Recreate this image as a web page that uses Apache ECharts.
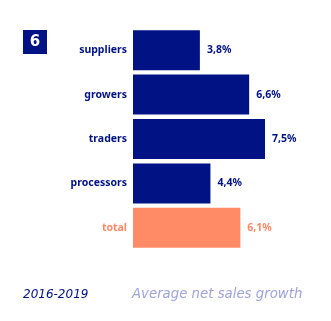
<!DOCTYPE html>
<html><head><meta charset="utf-8">
<script src="https://cdn.jsdelivr.net/npm/echarts@6/dist/echarts.min.js"></script>
<style>html,body{margin:0;padding:0;background:#fff}#c{width:331px;height:321px}</style>
</head><body><div id="c"></div>
<script>
const categories = ["suppliers", "growers", "traders", "processors", "total"];
const values = [3.8, 6.6, 7.5, 4.4, 6.1];
const valueLabels = ["3,8%", "6,6%", "7,5%", "4,4%", "6,1%"];
const NAVY = "#001284", SALMON = "#ff8a65";
const chart = echarts.init(document.getElementById('c'));
const FONT = "Noto Sans";
chart.setOption({
  animation: false,
  grid: {left: 133, top: 28, width: 176, height: 222},
  xAxis: {type: 'value', min: 0, max: 10, show: false},
  yAxis: {type: 'category', inverse: true, data: categories,
    axisLine: {show: false}, axisTick: {show: false},
    axisLabel: {margin: 6, fontFamily: FONT, fontWeight: 'bold', fontSize: 10.5,
      color: (v) => v === 'total' ? SALMON : NAVY}},
  series: [{type: 'bar', barWidth: 40,
    data: values.map((v, i) => ({value: v, itemStyle: {color: i === 4 ? SALMON : NAVY},
      label: {color: i === 4 ? SALMON : NAVY}})),
    label: {show: true, position: 'right', distance: 7, fontFamily: FONT, fontWeight: 'bold', fontSize: 10.5,
      formatter: (p) => valueLabels[p.dataIndex]}}],
  graphic: [
    {type: 'rect', shape: {x: 23, y: 30, width: 24, height: 24}, style: {fill: NAVY}},
    {type: 'text', x: 35, y: 42, style: {text: '6', fill: '#fff', font: 'bold 15px "DejaVu Sans"', textAlign: 'center', textVerticalAlign: 'middle'}},
    {type: 'text', x: 23, y: 295, style: {text: '2016-2019', fill: NAVY, font: 'italic 12px "DejaVu Sans"', textVerticalAlign: 'middle'}},
    {type: 'text', x: 132, y: 295, style: {text: 'Average net sales growth', fill: '#9ea3da', font: 'italic 13.3px "DejaVu Sans"', textVerticalAlign: 'middle'}}
  ]
});
</script></body></html>
